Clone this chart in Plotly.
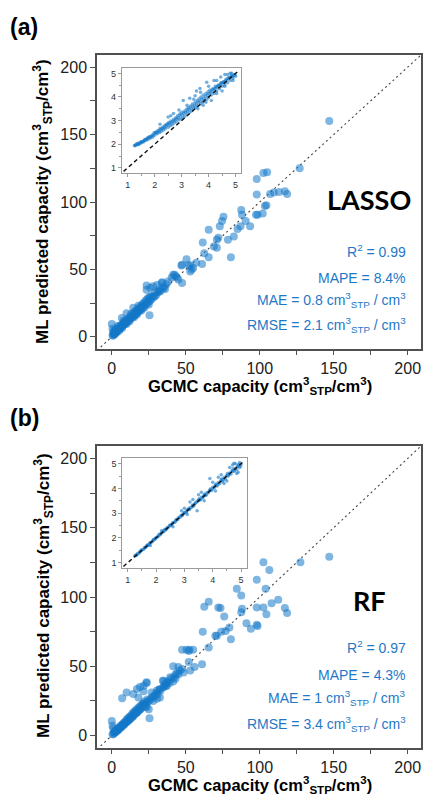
import plotly.graph_objects as go

# ---------------- data ----------------
# (a) LASSO main scatter: GCMC capacity vs ML predicted capacity
lasso_x = [147,127,98,102.5,105,98,107,109.5,113,117,118.5,103.5,104.5,97.5,98.5,102,87.5,88,90.5,93.5,
           85,87,82.5,78.5,75.5,74.5,73,72,65.5,71,69,71,61.5,62.5,65.5,80.5,61,52,53,54,
           53,55,47.5,47.5,41.5,43,44,45,34,30.5,28,26,23.5,23.5,25.5,0,10,6.8,14.5,33.8,
           57,50.5,47,40.5,42.5,37,38,35,32,29,
           0.5,1,1.5,2,2,2.5,3,3,3.5,4,4,4.5,5,5,5.5,6,6,6.5,7,7,7.5,8,8,8.5,9,9,9.5,10,10,10.5,
           11,11,11.5,12,12,12.5,13,13,13.5,14,14,14.5,15,15,15.5,16,16,16.5,17,17,17.5,18,18,18.5,
           19,19,19.5,20,20,21,21,22,22,23,23,24,24,25,25,26,26,27,28,29,30,31,32,33,35,36,
           20,15,10,5,3,1,2,7,12,17,22,25,27,18,13,8,4,1,0.5,2]
lasso_y = [160,125,117,121.5,122,105.5,106,107,107.5,108,106,97,97.5,90.5,90.5,91.5,94,90.5,86,82,
           80,82,74.5,72,89,86,82,73.5,79.5,72,67,66,70,62,59,59,54,53.5,52.5,50,
           48.5,51,53.5,40,46,45,44,42.5,40.5,38.5,37.5,36.5,35,38,16,9.5,17.5,14,21.5,40,
           55,57.5,53,44,46,39,41,37,35,33,
           1,2,2.5,3,4.5,3,4,5.5,4,5,6.5,5.5,6,7.5,6,7,8.5,7.5,8,9.5,8.5,9,10.5,9.5,10,11.5,10.5,11,12.5,11.5,
           12,13.5,12.5,13,14.5,13.5,14,15.5,14.5,15,17,15.5,16,18,16,17,19,17.5,18,20,18,19,21,19.5,
           20,22,20.5,21,23.5,22,24.5,23,25.5,24,27,25,28,26,29,27,30,28,29.5,30,31,33,33.5,34,36,35.5,
           19.5,14.5,9.5,4.5,3,1,2,6.5,11.5,16.5,21.5,24,30,23,17,12,8,4,6,5]

# (b) RF main scatter
rf_x = [147,127.5,102.5,106.5,98,104,84.5,87.5,65.5,62.5,72,73.5,88,87.5,98,102.5,108,112.5,104.5,117,
        118.5,76,91,94,98,98.5,79.5,77,74,71,70,80.5,65.5,61.5,47.5,50.5,52.5,55,52,61,
        56,53,52,41.5,45,47.5,48.5,39.5,35,37,41.5,23.5,21.5,19,17,10,7,25.5,0,0.5,
        1,21.5,23.5,25,32.5,30.5,28,14.5,18,27,30.5,32.5,35,37,21.5,34.5,23.5,45,43,
        0.5,1,1.5,2,2,2.5,3,3,3.5,4,4,4.5,5,5,5.5,6,6,6.5,7,7,7.5,8,8,8.5,9,9,9.5,10,10,10.5,
        11,11,11.5,12,12,12.5,13,13,13.5,14,14,14.5,15,15,15.5,16,16,16.5,17,17,17.5,18,18,18.5,
        19,19,19.5,20,20,21,21,22,22,23,23,24,24,25,26,27,28,29,30,31,32,33,35,36,37,38,39,40,42,43,44,46]
rf_y = [129,125,125,119.5,112.5,106,106,101,96.5,93,92.5,92,91.5,89,92.5,92.5,95.5,98,87.5,92,
        88.5,86,81,77,80,79,78,75.5,75,72,72,69.5,63.5,75,62,62,62,62,61,51.5,
        49.5,47,53,50,49.5,48,45.5,42,39.5,38.5,39,38.5,36,35,33.5,31,27,12.5,10.5,7,
        5,23,20.5,19,27.5,26.5,25,30,27.5,31,32.5,33.5,35,36,32,39.5,38,44,41,
        1,1,2,2,3,2.5,3,4,3.5,4,5,4,5,6,5.5,6,7,6,7,8,7.5,8,9,8,9,10,9.5,10,11.5,10,
        11,12.5,11,12,13.5,12,13,14.5,13,14,16,14,15,17,15.5,16,18,16,17,19,17,18,20,18.5,
        19,21,19,20,22,21,23,22,24.5,23,21,24,26,25,26,27.5,28,29,30.5,30,33,32.5,35,37,36,39,38,41,42,44,45,47]

# insets (log-scale view, ln units)
lasso_in_x = [1.25,1.3,1.32,1.38,1.4,1.45,1.5,1.52,1.58,1.6,1.65,1.7,1.72,1.78,1.8,1.85,1.9,1.93,1.98,2.0,
              2.05,2.1,2.12,2.18,2.2,2.25,2.3,2.33,2.38,2.4,2.45,2.5,2.52,2.58,2.6,2.65,2.7,2.72,2.78,2.8,
              2.85,2.9,2.93,2.98,3.0,3.05,3.1,3.12,3.18,3.2,3.25,3.3,3.33,3.38,3.4,3.45,3.5,3.52,3.58,3.6,
              3.65,3.7,3.72,3.78,3.8,3.85,3.9,3.93,3.98,4.0,4.05,4.1,4.15,4.2,4.25,4.3,4.35,4.4,4.45,4.5,
              4.55,4.6,4.65,4.7,4.75,4.8,4.85,4.9,4.95,5.0,
              3.06,3.3,3.5,3.93,4.2,4.45,2.7,2.5,3.8,4.1,4.5,2.2,3.68,4.6,4.85,
              1.28,1.35,1.42,1.48,1.55,1.62,1.68,1.75,1.82,1.88,1.95,2.02,2.08,2.15,2.22,2.28,2.35,2.42,2.48,2.55,
              2.62,2.68,2.75,2.82,2.88,2.95,3.02,3.08,3.15,3.22,3.28,3.35,3.42,3.48,3.55,3.62,3.68,3.75,3.82,3.88,
              3.95,4.02,4.08,4.12,4.18,4.22,4.28,4.32,4.38,4.42,4.48,4.52,4.58,4.62,4.68,4.72,4.78,4.82,4.88,4.92,4.98,
              2.9,3.2,3.45,3.7,4.0,4.3,3.55,2.6,4.7,4.8,3.6,3.9,4.3,4.6,4.9]
lasso_in_y = [1.95,1.97,2.0,1.98,2.05,2.03,2.1,2.06,2.14,2.1,2.2,2.17,2.25,2.22,2.32,2.26,2.38,2.3,2.48,2.38,
              2.52,2.44,2.58,2.5,2.66,2.55,2.72,2.6,2.8,2.66,2.86,2.72,2.92,2.78,2.98,2.82,3.05,2.9,3.12,2.95,
              3.2,3.02,3.28,3.08,3.35,3.12,3.4,3.18,3.48,3.28,3.55,3.35,3.62,3.42,3.7,3.5,3.78,3.55,3.85,3.62,
              3.92,3.7,4.0,3.78,4.08,3.85,4.15,3.9,4.22,3.98,4.3,4.08,4.35,4.15,4.45,4.25,4.5,4.35,4.6,4.45,
              4.65,4.52,4.75,4.6,4.82,4.7,4.9,4.78,4.95,4.88,
              3.85,3.95,4.05,4.62,4.7,4.85,3.3,3.15,3.65,3.85,4.25,2.85,4.36,4.95,5.0,
              1.93,2.02,2.0,2.08,2.1,2.18,2.2,2.27,2.3,2.33,2.4,2.47,2.5,2.55,2.62,2.66,2.72,2.78,2.82,2.88,
              2.92,2.97,3.02,3.08,3.12,3.2,3.25,3.3,3.35,3.42,3.48,3.52,3.6,3.65,3.7,3.78,3.82,3.9,3.95,4.02,
              4.08,4.15,4.2,4.25,4.32,4.35,4.4,4.42,4.5,4.52,4.58,4.6,4.65,4.68,4.72,4.78,4.82,4.85,4.88,4.9,4.95,
              3.45,3.65,3.9,4.2,4.45,4.7,4.25,3.2,4.95,5.0,3.5,3.78,4.15,4.45,4.7]
rf_in_x = [1.25,1.3,1.35,1.4,1.45,1.5,1.55,1.6,1.65,1.7,1.75,1.8,1.85,1.9,1.95,2.0,2.05,2.1,2.15,2.2,
           2.25,2.3,2.35,2.4,2.45,2.5,2.55,2.6,2.65,2.7,2.75,2.8,2.85,2.9,2.95,3.0,3.05,3.1,3.15,3.2,
           3.25,3.3,3.35,3.4,3.45,3.5,3.55,3.6,3.65,3.7,3.75,3.8,3.85,3.9,3.95,4.0,4.05,4.1,4.15,4.2,
           4.25,4.3,4.35,4.4,4.45,4.5,4.55,4.6,4.65,4.7,4.75,4.8,4.85,4.9,4.95,5.0,
           3.9,3.45,4.3,4.5,3.2,2.6,4.8,4.85,4.95,4.7,3.6,4.1,2.2,1.8,3.0,4.0,
           1.28,1.33,1.42,1.48,1.58,1.62,1.68,1.72,1.78,1.88,1.92,1.98,2.08,2.12,2.18,2.28,2.32,2.38,2.48,2.52,
           2.58,2.68,2.72,2.78,2.88,2.92,2.98,3.08,3.12,3.18,3.28,3.32,3.38,3.48,3.52,3.58,3.68,3.72,3.78,3.88,
           3.92,3.98,4.08,4.12,4.18,4.28,4.32,4.38,4.48,4.52,4.58,4.68,4.72,4.78,4.88,4.92,4.98,
           3.3,3.7,4.2,4.4,3.5,4.6,4.9,2.9,3.1,4.75]
rf_in_y = [1.27,1.3,1.37,1.38,1.47,1.52,1.53,1.62,1.64,1.72,1.74,1.82,1.84,1.92,1.94,2.02,2.04,2.12,2.13,2.22,
           2.24,2.32,2.33,2.42,2.44,2.52,2.53,2.62,2.64,2.72,2.74,2.83,2.84,2.92,2.95,3.03,3.04,3.12,3.17,3.22,
           3.23,3.33,3.34,3.42,3.46,3.52,3.53,3.64,3.62,3.74,3.72,3.84,3.83,3.94,3.92,4.05,4.02,4.14,4.1,4.24,
           4.2,4.34,4.28,4.44,4.38,4.52,4.5,4.62,4.58,4.72,4.68,4.82,4.76,4.92,4.85,4.98,
           4.4,3.1,4.55,4.3,3.45,2.45,5.0,4.6,5.05,4.95,3.85,3.9,2.3,1.7,3.2,4.25,
           1.3,1.32,1.43,1.48,1.57,1.63,1.7,1.7,1.8,1.87,1.95,1.97,2.07,2.15,2.18,2.27,2.35,2.37,2.5,2.5,
           2.6,2.66,2.75,2.77,2.9,2.9,3.0,3.05,3.15,3.15,3.3,3.28,3.4,3.5,3.58,3.55,3.7,3.78,3.75,3.9,
           3.98,3.95,4.1,4.18,4.15,4.3,4.38,4.35,4.5,4.6,4.55,4.7,4.8,4.75,4.9,4.98,4.9,
           3.55,3.5,4.45,4.2,3.75,4.85,4.65,3.1,2.95,5.02]

main_ticks = [0, 50, 100, 150, 200]
main_minor = [25, 75, 125, 175]
inset_ticks = [1, 2, 3, 4, 5]
inset_minor = [1.5, 2.5, 3.5, 4.5]
identity_main = [-10, 215]
identity_inset = [0.85, 5.1]

stats_a = ["R<sup>2</sup> = 0.99", "MAPE = 8.4%",
           "MAE = 0.8 cm<sup>3</sup><sub>STP</sub> / cm<sup>3</sup>",
           "RMSE = 2.1 cm<sup>3</sup><sub>STP</sub> / cm<sup>3</sup>"]
stats_b = ["R<sup>2</sup> = 0.97", "MAPE = 4.3%",
           "MAE = 1 cm<sup>3</sup><sub>STP</sub> / cm<sup>3</sup>",
           "RMSE = 3.4 cm<sup>3</sup><sub>STP</sub> / cm<sup>3</sup>"]

# ---------------- layout helpers ----------------
W, H = 424, 796
def px(x): return x / W
def py(y): return 1 - y / H

FONT = "Liberation Sans, Arial, sans-serif"
PT = "rgba(20,120,200,0.55)"
FRAME = "#505050"

def main_axis(domain, rng, anchor, tl=5):
    return dict(domain=domain, range=rng, anchor=anchor, showline=True, mirror=True,
                linecolor=FRAME, linewidth=1.5, ticks="outside", ticklen=tl, tickwidth=1.2,
                tickcolor=FRAME, tickvals=main_ticks,
                tickfont=dict(family=FONT, size=16, color="#222"),
                minor=dict(ticks="outside", ticklen=tl, tickwidth=1.2, tickcolor=FRAME, tickvals=main_minor),
                showgrid=False, zeroline=False)

def inset_axis(domain, rng, anchor):
    return dict(domain=domain, range=rng, anchor=anchor, showline=True, mirror=True,
                linecolor="#9a9a9a", linewidth=1, ticks="outside", ticklen=3, tickwidth=1,
                tickcolor="#9a9a9a", tickvals=inset_ticks,
                tickfont=dict(family=FONT, size=9, color="#333"),
                minor=dict(ticks="outside", ticklen=2, tickwidth=1, tickcolor="#9a9a9a", tickvals=inset_minor),
                showgrid=False, zeroline=False)

fig = go.Figure()

def add_panel(xs, ys, ixs, iys, xa, ya, ixa, iya):
    fig.add_trace(go.Scatter(x=identity_main, y=identity_main, mode="lines", xaxis=xa, yaxis=ya,
                             line=dict(color="#444", width=1.1, dash="2px,3px"), hoverinfo="skip"))
    fig.add_trace(go.Scatter(x=xs, y=ys, mode="markers", xaxis=xa, yaxis=ya,
                             marker=dict(size=8, color=PT, line=dict(width=0))))
    fig.add_trace(go.Scatter(x=ixs, y=iys, mode="markers", xaxis=ixa, yaxis=iya,
                             marker=dict(size=3.5, color="rgba(20,120,200,0.6)", line=dict(width=0))))
    fig.add_trace(go.Scatter(x=identity_inset, y=identity_inset, mode="lines", xaxis=ixa, yaxis=iya,
                             line=dict(color="#111", width=1.4, dash="4px,3px"), hoverinfo="skip"))

add_panel(lasso_x, lasso_y, lasso_in_x, lasso_in_y, "x", "y", "x2", "y2")
add_panel(rf_x, rf_y, rf_in_x, rf_in_y, "x3", "y3", "x4", "y4")

annots = []
def txt(x, y, s, size, color="#000", xanchor="center", angle=0, family=FONT):
    annots.append(dict(x=px(x), y=py(y), xref="paper", yref="paper", text=s, showarrow=False,
                       xanchor=xanchor, yanchor="middle", textangle=angle,
                       font=dict(family=family, size=size, color=color)))

ytitle = "<b>ML predicted capacity (cm<sup>3</sup><sub>STP</sub>/cm<sup>3</sup>)</b>"
xtitle = "<b>GCMC capacity (cm<sup>3</sup><sub>STP</sub>/cm<sup>3</sup>)</b>"

panels = [
    dict(label="(a)", ly=27, yt=202, xt=386, model="LASSO", my=199, stats=stats_a, sy=[251, 278, 300, 325]),
    dict(label="(b)", ly=418, yt=596, xt=784.5, model="RF", my=600, stats=stats_b, sy=[647, 675, 698, 724]),
]
for p in panels:
    txt(24, p["ly"], "<b>" + p["label"] + "</b>", 23)
    txt(43, p["yt"], ytitle, 17, angle=-90)
    txt(260, p["xt"], xtitle, 16.5)
    txt(369, p["my"], "<b>" + p["model"] + "</b>", 27, family="Lato, Open Sans, sans-serif")
    for s, yy in zip(p["stats"], p["sy"]):
        txt(408, yy, s, 14, color="#1e78c8", xanchor="right")

fig.update_layout(
    width=W, height=H, margin=dict(l=0, r=0, t=0, b=0),
    paper_bgcolor="white", plot_bgcolor="white", showlegend=False,
    xaxis=main_axis([px(97), px(421)], [-10, 209], "y", tl=4),
    yaxis=main_axis([py(349), py(55)], [-9, 209], "x"),
    xaxis2=inset_axis([px(121.7), px(241)], [0.78, 5.2], "y2"),
    yaxis2=inset_axis([py(173), py(67.7)], [0.78, 5.24], "x2"),
    xaxis3=main_axis([px(97), px(421)], [-10, 209], "y3", tl=4),
    yaxis3=main_axis([py(748), py(446)], [-9, 209], "x3"),
    xaxis4=inset_axis([px(122.3), px(246.7)], [0.81, 5.2], "y4"),
    yaxis4=inset_axis([py(567.7), py(458)], [0.8, 5.23], "x4"),
    annotations=annots,
)

fig.write_html("out.html")
